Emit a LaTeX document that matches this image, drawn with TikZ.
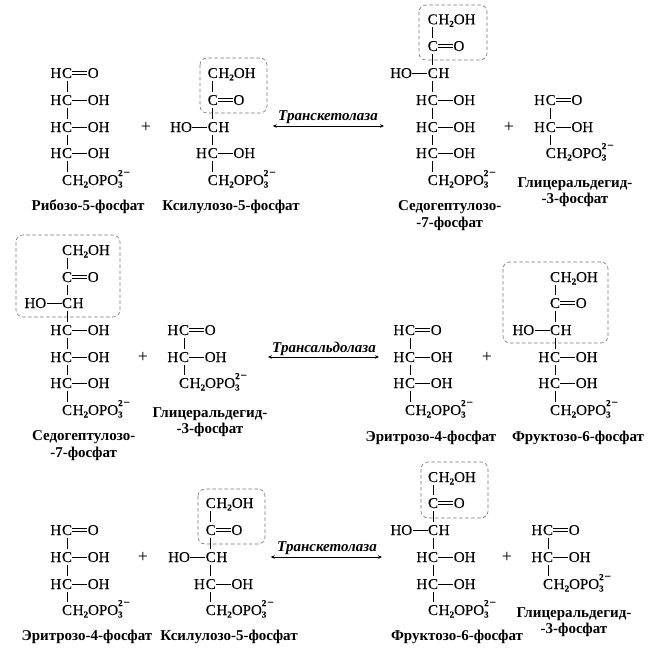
\documentclass[tikz,border=0pt]{standalone}
\usepackage{fontspec}
\setmainfont{Liberation Serif}
\newfontfamily\formfont[FakeBold=0.12]{Liberation Serif}
\usetikzlibrary{positioning,arrows.meta}

\tikzset{
  atom/.style={inner sep=0pt, outer sep=0.4pt, text height=12.5pt, text depth=2.5pt, font=\formfont\fontsize{15}{15}\selectfont},
  plussign/.style={inner sep=0pt, font=\fontsize{18}{18}\selectfont},
  bond/.style={line width=0.9pt},
  dbond/.style={line width=0.8pt, double, double distance=2.2pt},
  dashbox/.style={draw=black!55, line width=0.6pt, dash pattern=on 3.5pt off 2.5pt, rounded corners=7pt},
  molname/.style={inner sep=0pt, align=center, font=\bfseries\fontsize{15}{16}\selectfont},
  enzyme/.style={inner sep=0pt, font=\bfseries\itshape\fontsize{15}{15}\selectfont},
  rxn/.style={line width=0.8pt, {Stealth[length=4pt,width=3.5pt]}-{Stealth[length=4pt,width=3.5pt]}},
}

\newcommand{\subnum}[1]{\raisebox{-2.5pt}{\bfseries\fontsize{9}{9}\selectfont #1}}
\newcommand{\supsub}{\rlap{\subnum{3}}\raisebox{9pt}{\bfseries\fontsize{9}{9}\selectfont 2\kern1pt\fontsize{11}{11}\selectfont\textminus}}
%% rows of a chain: name, x, y
\newcommand{\rowald}[3]{
  \node[atom] (#1) at (#2,#3) {C};
  \node[atom, left=0pt of #1] (#1h) {H};
  \node[atom, right=15pt of #1] (#1o) {O};
  \draw[dbond] (#1) -- (#1o);}
\newcommand{\rowket}[3]{
  \node[atom] (#1) at (#2,#3) {C};
  \node[atom, right=15pt of #1] (#1o) {O};
  \draw[dbond] (#1) -- (#1o);}
\newcommand{\rowalc}[3]{
  \node[atom] (#1) at (#2,#3) {C};
  \node[atom, left=0pt of #1] (#1h) {H};
  \node[atom, right=15pt of #1] (#1o) {OH};
  \draw[bond] (#1) -- (#1o);}
\newcommand{\rowinv}[3]{
  \node[atom] (#1) at (#2,#3) {C};
  \node[atom, right=0pt of #1] (#1h) {H};
  \node[atom, left=15pt of #1] (#1o) {HO};
  \draw[bond] (#1) -- (#1o);}
\newcommand{\rowtop}[3]{
  \node[atom] (#1) at (#2,#3) {C};
  \node[atom, right=0pt of #1] (#1h) {H\subnum{2}OH};}
\newcommand{\rowend}[3]{
  \node[atom] (#1) at (#2,#3) {C};
  \node[atom, right=0pt of #1] (#1h) {H\subnum{2}OPO\supsub};}

\begin{document}
\begin{tikzpicture}[x=1pt, y=-1pt]
  \useasboundingbox (0,0) rectangle (649,650);

  %% first line
  \draw[dashbox] (200,58) rectangle (267,113);
  \draw[dashbox] (419,5) rectangle (487,60);

  \rowald{ra1}{67}{73}
  \rowalc{ra2}{67}{100}
  \rowalc{ra3}{67}{127}
  \rowalc{ra4}{67}{153}
  \rowend{ra5}{67}{180}
  \draw[bond] (ra1) -- (ra2) (ra2) -- (ra3) (ra3) -- (ra4) (ra4) -- (ra5);
  \node[molname] (rname) at (88,207) {Рибозо-5-фосфат};

  \node[plussign] (plusa) at (146,127) {+};

  \rowtop{xa1}{212.7}{73}
  \rowket{xa2}{212.7}{100}
  \rowinv{xa3}{212.7}{127}
  \rowalc{xa4}{212.7}{153}
  \rowend{xa5}{212.7}{180}
  \draw[bond] (xa1) -- (xa2) (xa2) -- (xa3) (xa3) -- (xa4) (xa4) -- (xa5);
  \node[molname] (xnamea) at (231,207) {Ксилулозо-5-фосфат};

  \coordinate (tal) at (272.7,126);
  \coordinate (tar) at (384,126);
  \draw[rxn] (tal) -- (tar);
  \node[enzyme] (tka) at (328,117) {Транскетолаза};

  \rowtop{sa1}{432.7}{19.3}
  \rowket{sa2}{432.7}{46}
  \rowinv{sa3}{432.7}{73}
  \rowalc{sa4}{432.7}{100}
  \rowalc{sa5}{432.7}{127}
  \rowalc{sa6}{432.7}{153}
  \rowend{sa7}{432.7}{180}
  \draw[bond] (sa1) -- (sa2) (sa2) -- (sa3) (sa3) -- (sa4) (sa4) -- (sa5) (sa5) -- (sa6) (sa6) -- (sa7);
  \node[molname] (snamea) at (449.7,215.5) {Седогептулозо-\\[1pt]-7-фосфат};

  \node[plussign] (plusb) at (509,127) {+};

  \rowald{ga1}{550.7}{100}
  \rowalc{ga2}{550.7}{127}
  \rowend{ga3}{550.7}{153}
  \draw[bond] (ga1) -- (ga2) (ga2) -- (ga3);
  \node[molname] (gnamea) at (575,192.5) {Глицеральдегид-\\-3-фосфат};

  %% second line
  \draw[dashbox] (16,235) rectangle (120,317);
  \draw[dashbox] (503,262) rectangle (608,343);

  \rowtop{sb1}{67}{250}
  \rowket{sb2}{67}{277}
  \rowinv{sb3}{67}{303}
  \rowalc{sb4}{67}{330}
  \rowalc{sb5}{67}{357}
  \rowalc{sb6}{67}{383}
  \rowend{sb7}{67}{410}
  \draw[bond] (sb1) -- (sb2) (sb2) -- (sb3) (sb3) -- (sb4) (sb4) -- (sb5) (sb5) -- (sb6) (sb6) -- (sb7);
  \node[molname] (snameb) at (83.7,445.5) {Седогептулозо-\\[1pt]-7-фосфат};

  \node[plussign] (plusc) at (143,357) {+};

  \rowald{gb1}{184}{330}
  \rowalc{gb2}{184}{357}
  \rowend{gb3}{184}{383}
  \draw[bond] (gb1) -- (gb2) (gb2) -- (gb3);
  \node[molname] (gnameb) at (210,422.5) {Глицеральдегид-\\-3-фосфат};

  \coordinate (tbl) at (268,357);
  \coordinate (tbr) at (379,357);
  \draw[rxn] (tbl) -- (tbr);
  \node[enzyme] (tld) at (324,349) {Трансальдолаза};

  \rowald{ea1}{410}{330}
  \rowalc{ea2}{410}{357}
  \rowalc{ea3}{410}{383}
  \rowend{ea4}{410}{410}
  \draw[bond] (ea1) -- (ea2) (ea2) -- (ea3) (ea3) -- (ea4);
  \node[molname] (enamea) at (431,438) {Эритрозо-4-фосфат};

  \node[plussign] (plusd) at (487,357) {+};

  \rowtop{fa1}{555}{277}
  \rowket{fa2}{555}{303}
  \rowinv{fa3}{555}{330}
  \rowalc{fa4}{555}{357}
  \rowalc{fa5}{555}{383}
  \rowend{fa6}{555}{410}
  \draw[bond] (fa1) -- (fa2) (fa2) -- (fa3) (fa3) -- (fa4) (fa4) -- (fa5) (fa5) -- (fa6);
  \node[molname] (fnamea) at (578,438) {Фруктозо-6-фосфат};

  %% third line
  \draw[dashbox] (198,489) rectangle (265,544);
  \draw[dashbox] (421,462) rectangle (488,518);

  \rowald{eb1}{67}{530}
  \rowalc{eb2}{67}{557}
  \rowalc{eb3}{67}{584}
  \rowend{eb4}{67}{610}
  \draw[bond] (eb1) -- (eb2) (eb2) -- (eb3) (eb3) -- (eb4);
  \node[molname] (enameb) at (87,637) {Эритрозо-4-фосфат};

  \node[plussign] (pluse) at (143,557) {+};

  \rowtop{xb1}{210.7}{503}
  \rowket{xb2}{210.7}{530}
  \rowinv{xb3}{210.7}{557}
  \rowalc{xb4}{210.7}{584}
  \rowend{xb5}{210.7}{610}
  \draw[bond] (xb1) -- (xb2) (xb2) -- (xb3) (xb3) -- (xb4) (xb4) -- (xb5);
  \node[molname] (xnameb) at (229,637) {Ксилулозо-5-фосфат};

  \coordinate (tcl) at (270.7,557);
  \coordinate (tcr) at (382,557);
  \draw[rxn] (tcl) -- (tcr);
  \node[enzyme] (tkb) at (327,548) {Транскетолаза};

  \rowtop{fb1}{433}{477}
  \rowket{fb2}{433}{503}
  \rowinv{fb3}{433}{530}
  \rowalc{fb4}{433}{557}
  \rowalc{fb5}{433}{584}
  \rowend{fb6}{433}{610}
  \draw[bond] (fb1) -- (fb2) (fb2) -- (fb3) (fb3) -- (fb4) (fb4) -- (fb5) (fb5) -- (fb6);
  \node[molname] (fnameb) at (457,637) {Фруктозо-6-фосфат};

  \node[plussign] (plusf) at (507,557) {+};

  \rowald{gc1}{548}{530}
  \rowalc{gc2}{548}{557}
  \rowend{gc3}{548}{584}
  \draw[bond] (gc1) -- (gc2) (gc2) -- (gc3);
  \node[molname] (gnamec) at (574,622) {Глицеральдегид-\\-3-фосфат};
\end{tikzpicture}
\end{document}
